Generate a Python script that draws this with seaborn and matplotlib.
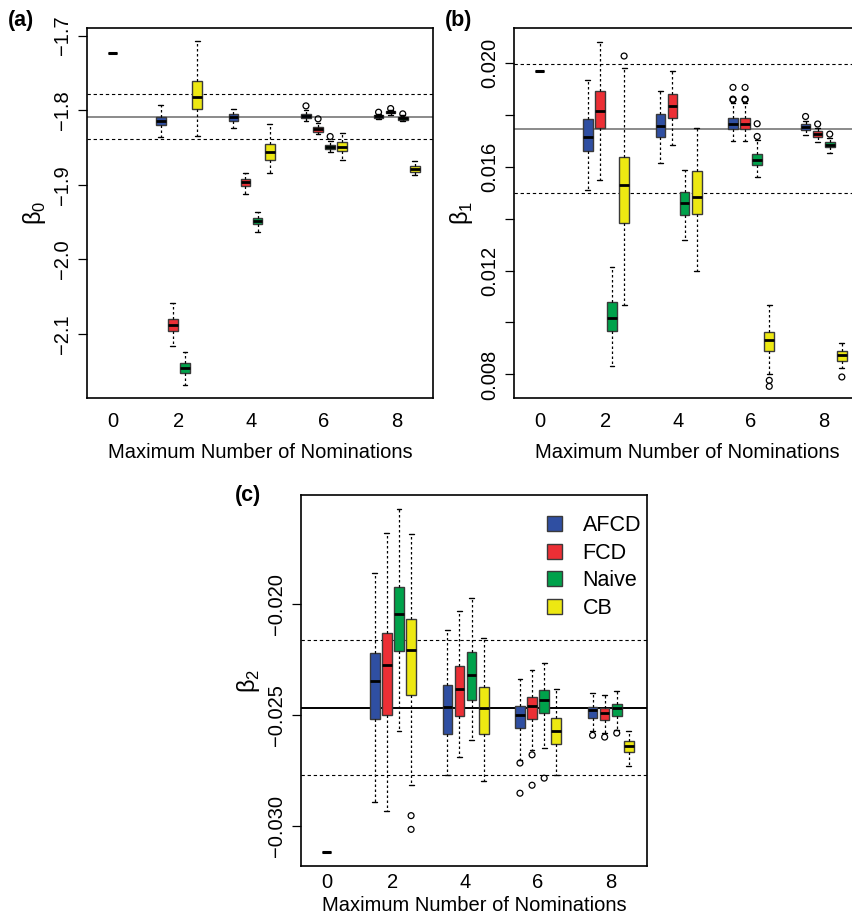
import pandas as pd
import numpy as np
import matplotlib
matplotlib.use("Agg")
import matplotlib.pyplot as plt
import seaborn as sns

sns.set_theme(style="ticks")
plt.rcParams["font.family"] = ["Liberation Sans", "DejaVu Sans"]
plt.rcParams["mathtext.fontset"] = "custom"
plt.rcParams["mathtext.rm"] = "Liberation Sans"
for key in ["text.color", "axes.labelcolor", "xtick.color", "ytick.color"]:
    plt.rcParams[key] = "black"

# data: five-number summaries [lower whisker, q1, median, q3, upper whisker]
noms = [2, 4, 6, 8]
methods = ["AFCD", "FCD", "Naive", "CB"]
colors = ["#2F4FA2", "#EC2F35", "#00A24B", "#EDE812"]

# beta0
b0_afcd = [[-1.8358, -1.8201, -1.8148, -1.8085, -1.7933], [-1.8242, -1.8139, -1.8094, -1.8049, -1.7978],
           [-1.8143, -1.8098, -1.8072, -1.8049, -1.7996], [-1.8116, -1.8098, -1.8076, -1.8058, -1.8045]]
b0_fcd = [[-2.1159, -2.0966, -2.0881, -2.0805, -2.0586], [-1.9119, -1.9011, -1.8966, -1.8922, -1.8846],
          [-1.8322, -1.8286, -1.8251, -1.8219, -1.8166], [-1.8058, -1.8040, -1.8027, -1.8009, -1.7996]]
b0_naive = [[-2.1687, -2.1530, -2.1459, -2.1396, -2.1248], [-1.9638, -1.9530, -1.9485, -1.9445, -1.9369],
            [-1.8559, -1.8523, -1.8492, -1.8465, -1.8407], [-1.8143, -1.8130, -1.8103, -1.8085, -1.8067]]
b0_cb = [[-1.8340, -1.7978, -1.7826, -1.7602, -1.7078], [-1.8841, -1.8662, -1.8555, -1.8447, -1.8179],
         [-1.8667, -1.8541, -1.8488, -1.8425, -1.8300], [-1.8872, -1.8823, -1.8783, -1.8743, -1.8676]]
b0_out_nom = [6, 6, 6, 8, 8, 8]
b0_out_method = ["AFCD", "FCD", "Naive", "AFCD", "FCD", "Naive"]
b0_out_val = [-1.7942, -1.8116, -1.8353, -1.8027, -1.7978, -1.8049]
b0_zero, b0_true, b0_band = -1.7237, -1.8086, [-1.8390, -1.7785]

# beta1
b1_afcd = [[0.01512, 0.01662, 0.01716, 0.01785, 0.01933], [0.01613, 0.01714, 0.01757, 0.01804, 0.01894],
           [0.01699, 0.01746, 0.01764, 0.01790, 0.01846], [0.01721, 0.01743, 0.01754, 0.01764, 0.01777]]
b1_fcd = [[0.01550, 0.01751, 0.01815, 0.01894, 0.02081], [0.01686, 0.01788, 0.01834, 0.01879, 0.01970],
          [0.01699, 0.01746, 0.01766, 0.01790, 0.01846], [0.01694, 0.01716, 0.01726, 0.01737, 0.01750]]
b1_naive = [[0.00831, 0.00969, 0.01018, 0.01079, 0.01214], [0.01317, 0.01414, 0.01459, 0.01502, 0.01587],
            [0.01560, 0.01608, 0.01625, 0.01649, 0.01705], [0.01654, 0.01676, 0.01686, 0.01697, 0.01711]]
b1_cb = [[0.01068, 0.01382, 0.01530, 0.01637, 0.01982], [0.01199, 0.01418, 0.01483, 0.01582, 0.01750],
         [0.00803, 0.00892, 0.00932, 0.00964, 0.01066], [0.00824, 0.00853, 0.00876, 0.00892, 0.00921]]
b1_out_nom = [2, 6, 6, 6, 6, 6, 6, 6, 6, 6, 6, 8, 8, 8, 8]
b1_out_method = ["CB", "AFCD", "AFCD", "AFCD", "FCD", "FCD", "FCD", "Naive", "Naive", "CB", "CB",
                 "AFCD", "FCD", "Naive", "CB"]
b1_out_val = [0.02027, 0.01906, 0.01861, 0.01858, 0.01906, 0.01861, 0.01858, 0.01766, 0.01717,
              0.00777, 0.00754, 0.01794, 0.01765, 0.01726, 0.00790]
b1_zero, b1_true, b1_band = 0.0197, 0.01747, [0.0150, 0.01996]

# beta2
b2_afcd = [[-0.02889, -0.02515, -0.02345, -0.02220, -0.01860], [-0.02770, -0.02584, -0.02462, -0.02363, -0.02117],
           [-0.02700, -0.02559, -0.02498, -0.02456, -0.02337], [-0.02571, -0.02511, -0.02477, -0.02461, -0.02401]]
b2_fcd = [[-0.02931, -0.02497, -0.02271, -0.02127, -0.01678], [-0.02688, -0.02503, -0.02383, -0.02279, -0.02032],
          [-0.02658, -0.02518, -0.02458, -0.02416, -0.02294], [-0.02580, -0.02520, -0.02489, -0.02468, -0.02410]]
b2_naive = [[-0.02572, -0.02211, -0.02042, -0.01923, -0.01568], [-0.02613, -0.02429, -0.02318, -0.02214, -0.01970],
            [-0.02646, -0.02491, -0.02429, -0.02384, -0.02264], [-0.02565, -0.02502, -0.02468, -0.02449, -0.02390]]
b2_cb = [[-0.02812, -0.02408, -0.02205, -0.02065, -0.01681], [-0.02797, -0.02586, -0.02465, -0.02372, -0.02151],
         [-0.02771, -0.02631, -0.02571, -0.02514, -0.02383], [-0.02729, -0.02667, -0.02639, -0.02616, -0.02572]]
b2_out_nom = [2, 2, 6, 6, 6, 6, 6, 8, 8, 8]
b2_out_method = ["CB", "CB", "AFCD", "AFCD", "FCD", "FCD", "Naive", "AFCD", "FCD", "Naive"]
b2_out_val = [-0.02952, -0.03014, -0.02715, -0.02851, -0.02678, -0.02815, -0.02783,
              -0.02590, -0.02598, -0.02580]
b2_zero, b2_true, b2_band = -0.03116, -0.02465, [-0.02768, -0.02162]


def pos_of(nom, method):
    return 3 * nom - 1 + methods.index(method)


def box_frame(*series):
    rows = []
    for m, stats in zip(methods, series):
        for nom, five in zip(noms, stats):
            for v in five:
                rows.append({"pos": pos_of(nom, m), "value": v, "method": m})
    return pd.DataFrame(rows)


def out_frame(nom, method, val):
    return pd.DataFrame({"pos": [pos_of(n, m) for n, m in zip(nom, method)], "value": val})


# layout

W, H = 853, 917
fig = plt.figure(figsize=(W / 100, H / 100), dpi=100)

panels = [
    dict(rect=(87, 28, 346, 370), tag="(a)", tagxy=(8, 10), ylab="β$_0$",
         boxes=box_frame(b0_afcd, b0_fcd, b0_naive, b0_cb),
         outs=out_frame(b0_out_nom, b0_out_method, b0_out_val),
         zero=b0_zero, true=b0_true, band=b0_band, truecol="#8a8a8a",
         ylim=(-2.1862, -1.6897), ticks=[-2.1, -2.0, -1.9, -1.8, -1.7],
         labels=["\u22122.1", "\u22122.0", "\u22121.9", "\u22121.8", "\u22121.7"],
         xpad=10, xlabpad=9),
    dict(rect=(514, 28, 346, 370), tag="(b)", tagxy=(445, 10), ylab="β$_1$",
         boxes=box_frame(b1_afcd, b1_fcd, b1_naive, b1_cb),
         outs=out_frame(b1_out_nom, b1_out_method, b1_out_val),
         zero=b1_zero, true=b1_true, band=b1_band, truecol="#8a8a8a",
         ylim=(0.00709, 0.02135), ticks=[0.008, 0.010, 0.012, 0.014, 0.016, 0.018, 0.020],
         labels=["0.008", "", "0.012", "", "0.016", "", "0.020"],
         xpad=10, xlabpad=9),
    dict(rect=(301, 495, 346, 371), tag="(c)", tagxy=(235, 485), ylab="β$_2$",
         boxes=box_frame(b2_afcd, b2_fcd, b2_naive, b2_cb),
         outs=out_frame(b2_out_nom, b2_out_method, b2_out_val),
         zero=b2_zero, true=b2_true, band=b2_band, truecol="black",
         ylim=(-0.03179, -0.01507), ticks=[-0.030, -0.025, -0.020],
         labels=["\u22120.030", "\u22120.025", "\u22120.020"],
         xpad=5, xlabpad=3),
]

for i, p in enumerate(panels):
    x0, y0, w, h = p["rect"]
    ax = fig.add_axes([x0 / W, 1 - (y0 + h) / H, w / W, h / H])
    last = i == 2

    # reference lines
    ax.axhline(p["true"], color=p["truecol"], lw=1.4, zorder=1)
    for b in p["band"]:
        ax.axhline(b, color="black", lw=0.8, ls=(0, (3, 2.5)), zorder=1)

    sns.boxplot(
        data=p["boxes"], x="pos", y="value", hue="method", hue_order=methods,
        palette=colors, saturation=1, native_scale=True, dodge=False, whis=(0, 100),
        width=0.8, showfliers=False, linecolor="#3a3a3a", linewidth=1.0,
        whiskerprops=dict(color="black", linestyle=(0, (2, 2)), linewidth=0.9),
        capprops=dict(color="black", linewidth=1.0),
        medianprops=dict(color="black", linewidth=2.0),
        legend=last, ax=ax,
    )

    # estimate with zero nominations
    sns.boxplot(x=[1] * 5, y=[p["zero"]] * 5, native_scale=True, color="black",
                width=0.8, linecolor="black", linewidth=1.0,
                medianprops=dict(color="black", linewidth=2.2), ax=ax)

    sns.scatterplot(data=p["outs"], x="pos", y="value", marker="o", s=18,
                    facecolor="none", edgecolor="black", linewidth=0.9,
                    legend=False, ax=ax, zorder=4)

    ax.set_xlim(-1.1, 27.5)
    ax.set_ylim(*p["ylim"])
    ax.set_xticks([1, 6.5, 12.5, 18.5, 24.5], ["0", "2", "4", "6", "8"])
    ax.tick_params(axis="x", length=0, pad=p["xpad"], labelsize=14.5)
    ax.set_yticks(p["ticks"], p["labels"])
    ax.tick_params(axis="y", length=6.5, width=0.9, pad=4, labelsize=14.5, labelrotation=90)
    for lab in ax.get_yticklabels():
        lab.set_verticalalignment("center")
    ax.set_xlabel("Maximum Number of Nominations", fontsize=14.5, labelpad=p["xlabpad"])
    ax.set_ylabel(p["ylab"], fontsize=17, labelpad=4)
    for s in ax.spines.values():
        s.set_visible(True)
        s.set_color("black")
        s.set_linewidth(1.2)

    fig.text(p["tagxy"][0] / W, 1 - p["tagxy"][1] / H, p["tag"], fontsize=15.5,
             fontweight="bold", ha="left", va="top")

    if last:
        leg = ax.get_legend()
        handles = leg.legend_handles
        labels = [t.get_text() for t in leg.get_texts()]
        ax.legend(handles, labels, loc="upper right", bbox_to_anchor=(1.02, 0.98),
                  frameon=False, fontsize=15.5, handlelength=0.7, handleheight=0.7,
                  handletextpad=0.95, labelspacing=0.3, borderaxespad=0.2)

plt.savefig("out.png", dpi=100)
